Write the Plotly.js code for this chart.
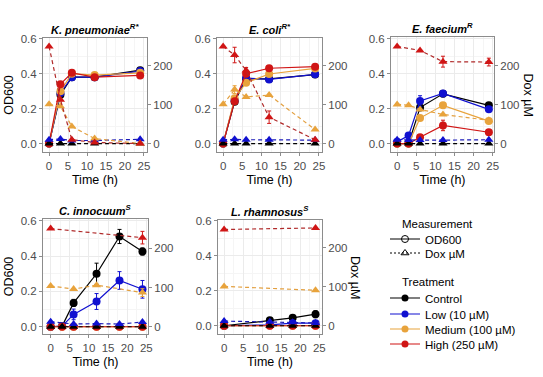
<!DOCTYPE html>
<html><head><meta charset="utf-8">
<script src="https://cdn.plot.ly/plotly-3.0.1.min.js"></script>
<style>html,body{margin:0;padding:0;background:#fff}</style>
</head><body><div id="chart" style="width:543px;height:377px"></div>
<script>
// ---------- data ----------
const treatments = ['Control', 'Low (10 µM)', 'Medium (100 µM)', 'High (250 µM)'];
const measurements = ['OD600', 'Dox µM'];
const legendTitles = ['Measurement', 'Treatment'];
const panelTitles = ['K. pneumoniae', 'E. coli', 'E. faecium', 'C. innocuum', 'L. rhamnosus'];
const panelSup = ['R*', 'R*', 'R', 'S', 'S'];
const xTicks = [0, 5, 10, 15, 20, 25];
const odTicks = [0, 0.2, 0.4, 0.6];
const doxTicks = [0, 100, 200];

// K. pneumoniae
const kpTime = [0, 3, 6, 12, 24];
const kpOdControl = [0.00, 0.28, 0.38, 0.38, 0.42];
const kpOdLow = [0.00, 0.29, 0.38, 0.38, 0.415];
const kpOdMedium = [0.00, 0.30, 0.40, 0.392, 0.405];
const kpOdHigh = [0.00, 0.34, 0.405, 0.38, 0.39];
const kpDoxControl = [0, 0, 0, 0, 0];
const kpDoxLow = [10, 12, 8, 8, 11];
const kpDoxMedium = [101, 96, 44, 13, 0];
const kpDoxHigh = [250, 113, 10, 3, 0];

// E. coli
const ecTime = [0, 3, 6, 12, 24];
const ecOdControl = [0.00, 0.24, 0.37, 0.37, 0.395];
const ecOdLow = [0.00, 0.25, 0.375, 0.367, 0.396];
const ecOdMedium = [0.00, 0.26, 0.348, 0.398, 0.43];
const ecOdHigh = [0.00, 0.242, 0.40, 0.431, 0.44];
const ecDoxControl = [0, 0, 0, 0, 0];
const ecDoxLow = [10, 11, 10, 10, 9];
const ecDoxMedium = [101, 139, 120, 125, 36];
const ecDoxMediumErr = [0, 10, 0, 0, 0];
const ecDoxHigh = [250, 228, 188, 68, 10];
const ecDoxHighErr = [0, 20, 8, 16, 0];

// E. faecium
const efTime = [0, 3, 6, 12, 24];
const efOdControl = [0.00, 0.00, 0.206, 0.285, 0.219];
const efOdLow = [0.01, 0.046, 0.244, 0.287, 0.196];
const efOdLowErr = [0, 0, 0.03, 0.01, 0.01];
const efOdMedium = [0.00, 0.00, 0.146, 0.219, 0.129];
const efOdMediumErr = [0, 0, 0.01, 0.01, 0.01];
const efOdHigh = [0.00, 0.00, 0.036, 0.104, 0.065];
const efOdHighErr = [0, 0, 0.01, 0.03, 0.015];
const efDoxControl = [0, 0, 0, 0, 0];
const efDoxLow = [10, 9, 9, 9, 10];
const efDoxMedium = [101, 99, 88, 75, 60];
const efDoxHigh = [250, null, 240, 211, 210];
const efDoxHighErr = [0, 0, 0, 14, 10];

// C. innocuum
const ciTime = [0, 3, 6, 12, 18, 24];
const ciOdControl = [0.00, 0.004, 0.135, 0.30, 0.511, 0.426];
const ciOdControlErr = [0, 0, 0.02, 0.06, 0.04, 0.02];
const ciOdLow = [0.00, 0.004, 0.07, 0.143, 0.262, 0.212];
const ciOdLowErr = [0, 0, 0.03, 0.045, 0.05, 0.05];
const ciOdMedium = [0, 0, 0, 0, 0, 0];
const ciOdHigh = [0, 0, 0, 0, 0, 0];
const ciDoxControl = [0, 0, 0, 0, 0, 0];
const ciDoxLow = [13, null, 7, 8, 7, 12];
const ciDoxMedium = [104, null, 96, 106, null, 87];
const ciDoxMediumErr = [0, 0, 0, 0, 0, 10];
const ciDoxHigh = [250, null, null, null, null, 227];
const ciDoxHighErr = [0, 0, 0, 0, 0, 16];

// L. rhamnosus
const lrTime = [0, 12, 18, 24];
const lrOdControl = [0.00, 0.032, 0.045, 0.066];
const lrOdControlErr = [0, 0.005, 0.01, 0.02];
const lrOdLow = [0.00, 0.005, 0.015, 0.015];
const lrOdMedium = [0, 0, 0, 0];
const lrOdHigh = [0, 0, 0, 0];
const lrDoxControl = [0, 0, 0, 0];
const lrDoxLow = [12, 10, 9, 7];
const lrDoxMedium = [101, null, null, 91];
const lrDoxHigh = [247, null, null, 251];

// ---------- styling ----------
const DOX_PER_OD = 450; // secondary-axis scale factor
const W = 543, H = 377;
const markerColors = ['#000000', '#1010D0', '#E8A33C', '#D01515'];
const dashColors = ['#000000', '#1A1AB8', '#E3A040', '#B02A2A'];
const FONT = 'Liberation Sans, Arial, sans-serif';

const panels = [
  {time: kpTime, od: [kpOdControl, kpOdLow, kpOdMedium, kpOdHigh], odErr: [null, null, null, null],
   dox: [kpDoxControl, kpDoxLow, kpDoxMedium, kpDoxHigh], doxErr: [null, null, null, null],
   px: [43, 147], py: [38, 152], xr: [-1.6, 25.8], yr: [-0.048, 0.604], left: true, right: false},
  {time: ecTime, od: [ecOdControl, ecOdLow, ecOdMedium, ecOdHigh], odErr: [null, null, null, null],
   dox: [ecDoxControl, ecDoxLow, ecDoxMedium, ecDoxHigh], doxErr: [null, null, ecDoxMediumErr, ecDoxHighErr],
   px: [217, 322], py: [38, 152], xr: [-1.6, 25.8], yr: [-0.048, 0.604], left: false, right: false},
  {time: efTime, od: [efOdControl, efOdLow, efOdMedium, efOdHigh], odErr: [null, efOdLowErr, efOdMediumErr, efOdHighErr],
   dox: [efDoxControl, efDoxLow, efDoxMedium, efDoxHigh], doxErr: [null, null, null, efDoxHighErr],
   px: [391, 494], py: [37, 152], xr: [-1.6, 25.35], yr: [-0.048, 0.61], left: false, right: true},
  {time: ciTime, od: [ciOdControl, ciOdLow, ciOdMedium, ciOdHigh], odErr: [ciOdControlErr, ciOdLowErr, null, null],
   dox: [ciDoxControl, ciDoxLow, ciDoxMedium, ciDoxHigh], doxErr: [null, null, ciDoxMediumErr, ciDoxHighErr],
   px: [43, 148], py: [219, 334], xr: [-2.0, 25.45], yr: [-0.041, 0.61], left: true, right: false},
  {time: lrTime, od: [lrOdControl, lrOdLow, lrOdMedium, lrOdHigh], odErr: [lrOdControlErr, null, null, null],
   dox: [lrDoxControl, lrDoxLow, lrDoxMedium, lrDoxHigh], doxErr: [null, null, null, null],
   px: [218, 322], py: [220, 334], xr: [-1.6, 25.7], yr: [-0.047, 0.603], left: false, right: true}
];

const tickFont = {family: FONT, size: 11.5, color: '#4d4d4d'};
const titleFont = {family: FONT, size: 12.5, color: '#000'};
const frame = '#8c8c8c';

const traces = [];
const layout = {
  width: W, height: H, margin: {l: 0, r: 0, t: 0, b: 0},
  paper_bgcolor: '#fff', plot_bgcolor: '#fff',
  font: {family: FONT, color: '#000'},
  showlegend: true, annotations: []
};

panels.forEach((p, i) => {
  const n = i + 1, n2 = i + 6;
  const xa = 'x' + n, ya = 'y' + n, ya2 = 'y' + n2;
  layout['xaxis' + n] = {
    domain: [p.px[0] / W, p.px[1] / W], range: p.xr, anchor: ya,
    tickvals: xTicks, showgrid: true, gridcolor: '#ebebeb', gridwidth: 1,
    minor: {dtick: 2.5, tick0: 0, showgrid: true, gridcolor: '#f5f5f5', ticks: ''},
    showline: true, linecolor: frame, linewidth: 1, mirror: true, zeroline: false,
    ticks: 'outside', ticklen: 3, tickcolor: frame, tickfont: tickFont,
    title: {text: 'Time (h)', font: titleFont, standoff: 4}
  };
  layout['yaxis' + n] = {
    domain: [1 - p.py[1] / H, 1 - p.py[0] / H], range: p.yr, anchor: xa,
    tickvals: odTicks, tickformat: '.1f', showgrid: true, gridcolor: '#ebebeb',
    minor: {dtick: 0.1, tick0: 0, showgrid: true, gridcolor: '#f5f5f5', ticks: ''},
    showline: true, linecolor: frame, linewidth: 1, mirror: true, zeroline: false,
    ticks: 'outside', ticklen: 3, tickcolor: frame, tickfont: tickFont,
    title: p.left ? {text: 'OD600', font: titleFont, standoff: 4} : {text: ''}
  };
  layout['yaxis' + n2] = {
    overlaying: ya, side: 'right', anchor: xa,
    range: [p.yr[0] * DOX_PER_OD, p.yr[1] * DOX_PER_OD],
    tickvals: doxTicks, showgrid: false, zeroline: false,
    showline: true, linecolor: frame, linewidth: 1,
    ticks: 'outside', ticklen: 3, tickcolor: frame, tickfont: tickFont
  };
  layout.annotations.push({
    xref: 'paper', yref: 'paper', x: (p.px[0] + p.px[1]) / 2 / W, y: 1 - (p.py[0] - 9) / H,
    xanchor: 'center', yanchor: 'middle', showarrow: false,
    text: '<b><i>' + panelTitles[i] + '<sup>' + panelSup[i] + '</sup></i></b>',
    font: {family: FONT, size: 11, color: '#000'}
  });
  if (p.right) {
    layout.annotations.push({
      xref: 'paper', yref: 'paper', x: (p.px[1] + 33) / W, y: 1 - (p.py[0] + p.py[1]) / 2 / H,
      xanchor: 'center', yanchor: 'middle', showarrow: false, textangle: 90,
      text: 'Dox µM', font: titleFont
    });
  }
  for (let t = 0; t < 4; t++) {
    const e = p.odErr[t];
    traces.push({
      type: 'scatter', mode: 'lines+markers', x: p.time, y: p.od[t], xaxis: xa, yaxis: ya,
      connectgaps: true, showlegend: false, hoverinfo: 'skip',
      line: {color: markerColors[t], width: 1.2},
      marker: {symbol: 'circle', size: 8, color: markerColors[t]},
      error_y: e ? {type: 'data', array: e, visible: true, color: markerColors[t], thickness: 1, width: 2} : {visible: false}
    });
  }
  for (let t = 0; t < 4; t++) {
    const e = p.doxErr[t];
    traces.push({
      type: 'scatter', mode: 'lines+markers', x: p.time, y: p.dox[t], xaxis: xa, yaxis: ya2,
      connectgaps: true, showlegend: false, hoverinfo: 'skip',
      line: {color: dashColors[t], width: 1.2, dash: '4px,3px'},
      marker: {symbol: 'triangle-up', size: 8, color: markerColors[t]},
      error_y: e ? {type: 'data', array: e, visible: true, color: markerColors[t], thickness: 1, width: 2} : {visible: false}
    });
  }
});

// ---------- legends: one legend per entry so spacing can match ----------
const LEG_X = 385;
const legendItemY = [239, 253, 298, 314, 329, 344];
const legendTitleY = [224, 282];
legendTitles.forEach((txt, k) => {
  layout.annotations.push({
    xref: 'paper', yref: 'paper', x: 400 / W, y: 1 - legendTitleY[k] / H,
    xanchor: 'left', yanchor: 'middle', showarrow: false, text: txt,
    font: {family: FONT, size: 11.5, color: '#000'}
  });
});
const legendEntries = [
  {name: measurements[0], line: {color: '#000', width: 1}, marker: {symbol: 'circle-open', size: 7, color: '#000'}},
  {name: measurements[1], line: {color: '#000', width: 1, dash: '2px,2px'}, marker: {symbol: 'triangle-up-open', size: 7, color: '#000'}}
].concat(treatments.map((nm, t) => ({
  name: nm, line: {color: markerColors[t], width: 1.2}, marker: {symbol: 'circle', size: 7, color: markerColors[t]}
})));
legendEntries.forEach((en, k) => {
  const key = k === 0 ? 'legend' : 'legend' + (k + 1);
  layout[key] = {x: LEG_X / W, xanchor: 'left', y: 1 - legendItemY[k] / H, yanchor: 'middle',
    bgcolor: 'rgba(0,0,0,0)', font: {family: FONT, size: 11.5, color: '#000'}, itemwidth: 30};
  traces.push({type: 'scatter', mode: 'lines+markers', x: [null], y: [null], xaxis: 'x', yaxis: 'y',
    name: en.name, legend: key, line: en.line, marker: en.marker, hoverinfo: 'skip'});
});

Plotly.newPlot('chart', traces, layout, {staticPlot: true, displayModeBar: false});
</script></body></html>
